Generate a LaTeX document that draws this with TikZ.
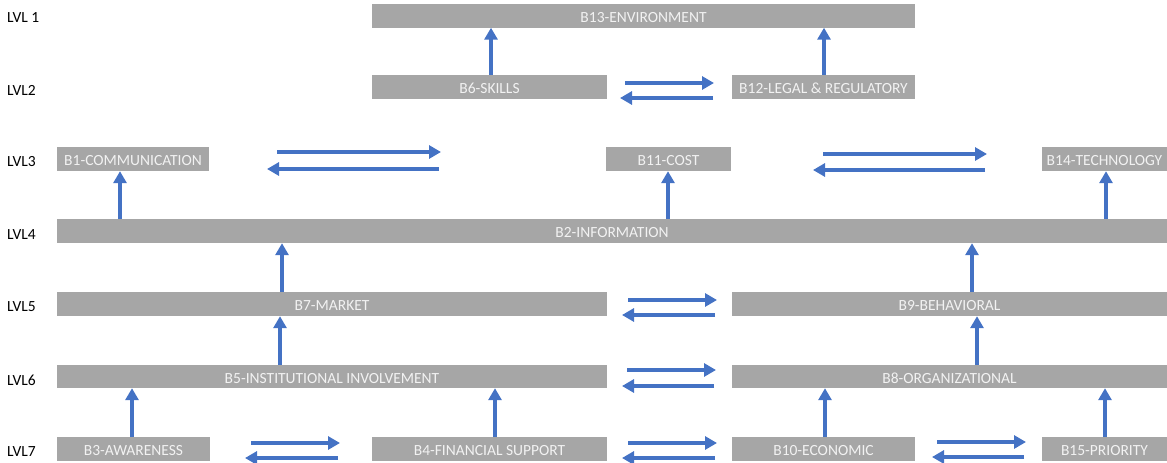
\documentclass[tikz,border=0pt]{standalone}
\usepackage{fontspec}
\setmainfont{Carlito}
\usepackage{xcolor}
\usepackage{tikz}
\usetikzlibrary{arrows.meta}
\definecolor{boxgray}{RGB}{166,166,166}
\definecolor{boxtext}{RGB}{242,242,242}
\definecolor{arrblue}{RGB}{68,114,196}

\begin{document}
\begin{tikzpicture}[x=1pt, y=-1pt,
    every node/.style={font=\fontsize{15.5}{18}\selectfont},
    bbox/.style={fill=boxgray, text=boxtext, inner sep=0pt,
                 minimum height=24pt, text height=13pt, text depth=0pt,
                 align=center},
    lvl/.style={anchor=west, inner sep=0pt, text=black},
    uparr/.style={draw=arrblue, line width=4.5pt,
                  -{Triangle[length=12pt, width=13pt]}},
    harr/.style={draw=arrblue, line width=4.5pt,
                 -{Triangle[length=12pt, width=13pt]}}]
  \useasboundingbox (0,0) rectangle (1167,463);

  % level labels
  \node[lvl] (l1) at (7,17.5) {LVL 1};
  \node[lvl] (l2) at (7,90.5) {LVL2};
  \node[lvl] (l3) at (7,162)  {LVL3};
  \node[lvl] (l4) at (7,235)  {LVL4};
  \node[lvl] (l5) at (7,307)  {LVL5};
  \node[lvl] (l6) at (7,380)  {LVL6};
  \node[lvl] (l7) at (7,452)  {LVL7};

  % barriers, row by row
  \node[bbox, minimum width=543pt]  (B13) at (643.5,15.5) {B13-ENVIRONMENT};
  \node[bbox, minimum width=235pt]  (B6)  at (489.5,87)   {B6-SKILLS};
  \node[bbox, minimum width=183pt]  (B12) at (823.5,87)   {B12-LEGAL \& REGULATORY};
  \node[bbox, minimum width=152pt]  (B1)  at (133,159)    {B1-COMMUNICATION};
  \node[bbox, minimum width=125pt]  (B11) at (668.5,159)  {B11-COST};
  \node[bbox, minimum width=125pt]  (B14) at (1104.5,159) {B14-TECHNOLOGY};
  \node[bbox, minimum width=1110pt] (B2)  at (612,231)    {B2-INFORMATION};
  \node[bbox, minimum width=550pt]  (B7)  at (332,304)    {B7-MARKET};
  \node[bbox, minimum width=435pt]  (B9)  at (949.5,304)  {B9-BEHAVIORAL};
  \node[bbox, minimum width=550pt, minimum height=23pt]  (B5) at (332,376.5)   {B5-INSTITUTIONAL INVOLVEMENT};
  \node[bbox, minimum width=435pt, minimum height=23pt]  (B8) at (949.5,376.5) {B8-ORGANIZATIONAL};
  \node[bbox, minimum width=153pt]  (B3)  at (133.5,449)  {B3-AWARENESS};
  \node[bbox, minimum width=235pt]  (B4)  at (489.5,449)  {B4-FINANCIAL SUPPORT};
  \node[bbox, minimum width=183pt]  (B10) at (823.5,449)  {B10-ECONOMIC};
  \node[bbox, minimum width=125pt]  (B15) at (1104.5,449) {B15-PRIORITY};

  % upward influences (x of shaft / from / to)
  \foreach \x/\lo/\hi in {491/B6/B13, 824/B12/B13,
                          120/B2/B1, 668/B2/B11, 1106/B2/B14,
                          282/B7/B2, 972/B9/B2,
                          280/B5/B7, 977/B8/B9,
                          132/B3/B5, 495/B4/B5, 825/B10/B8, 1105/B15/B8} {
    \coordinate (u) at (\x,0);
    \draw[uparr] (u |- \lo.north) -- (u |- \hi.south);
  }

  % two-way pairs between neighbours
  \foreach \n/\xa/\xb/\ya/\xc/\xd/\yb in {
      a/625/714/83/713/620/98,
      b/277/441/152/439/267/169,
      c/823/987/154/985/813/170,
      d/628/717/300/715/622/315,
      e/627/716/370/714/622/386,
      f/251/340/443/338/245/458,
      g/628/717/443/715/622/458,
      h/937/1026/442/1024/932/457} {
    \coordinate (r\n1) at (\xa,\ya);
    \coordinate (r\n2) at (\xb,\ya);
    \coordinate (l\n1) at (\xc,\yb);
    \coordinate (l\n2) at (\xd,\yb);
    \draw[harr] (r\n1) -- (r\n2);
    \draw[harr] (l\n1) -- (l\n2);
  }
\end{tikzpicture}
\end{document}
